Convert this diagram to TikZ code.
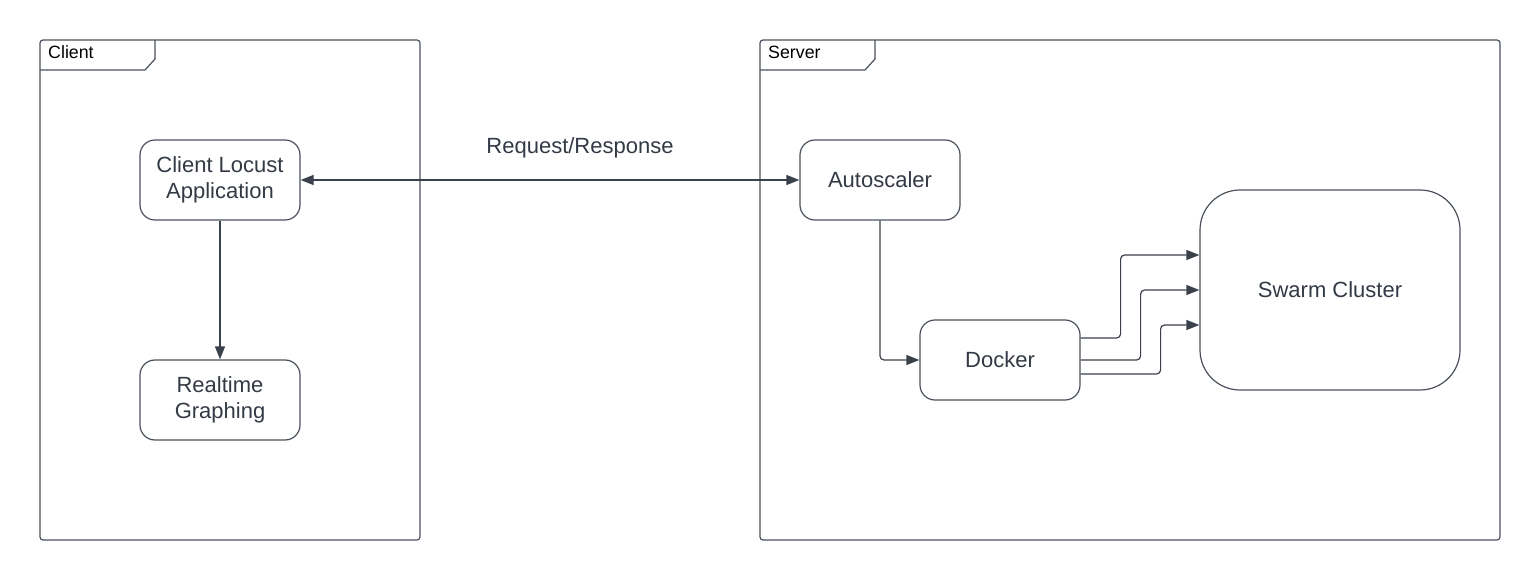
\documentclass[tikz,border=0pt]{standalone}
\usepackage{fontspec}
\setmainfont{Liberation Sans}
\usetikzlibrary{arrows.meta}
\definecolor{lc}{HTML}{4A515C}
\definecolor{ac}{HTML}{3A414A}
\definecolor{tc}{HTML}{333A45}
\tikzset{
  box/.style={draw=lc, line width=1.2pt, rounded corners=15pt, minimum width=160pt, minimum height=80pt, align=center, text=tc, font=\fontsize{22}{26}\selectfont, inner sep=0pt},
  arr/.style={draw=ac, line width=1.2pt, -{Triangle[length=13pt,width=10pt]}, rounded corners=4pt},
  frame/.style={draw=lc, line width=1.2pt, rounded corners=3pt},
  tabtxt/.style={anchor=base west, text=black, font=\fontsize{17.8}{20}\selectfont, inner sep=0pt},
  lbl/.style={text=tc, font=\fontsize{22}{26}\selectfont, inner sep=0pt}
}
\begin{document}
\begin{tikzpicture}[x=1pt,y=-1pt]
\useasboundingbox (0,0) rectangle (1540,580);
% frames
\draw[frame] (40,40) rectangle (420,540);
\draw[draw=lc, line width=1.2pt] (40,70) -- (145,70) -- (155,59) -- (155,40);
\node[tabtxt] (clientlbl) at (48,59) {Client};
\draw[frame] (760,40) rectangle (1500,540);
\draw[draw=lc, line width=1.2pt] (760,70) -- (865,70) -- (875,59) -- (875,40);
\node[tabtxt] (serverlbl) at (768,59) {Server};
% nodes
\node[box] (cla) at (220,180) {Client Locust\\Application};
\node[box] (rtg) at (220,400) {Realtime\\Graphing};
\node[box] (auto) at (880,180) {Autoscaler};
\node[box] (dock) at (1000,360) {Docker};
\node[box, minimum width=260pt, minimum height=200pt, rounded corners=40pt] (swarm) at (1330,290) {Swarm Cluster};
\node[lbl] (rr) at (580,148) {Request/Response};
% connectors
\draw[arr, {Triangle[length=13pt,width=10pt]}-{Triangle[length=13pt,width=10pt]}] (cla.east) -- (auto.west);
\draw[arr] (cla.south) -- (rtg.north);
\draw[arr] (auto.south) |- (dock.west);
\draw[arr] ([yshift=22pt]dock.east) -- ++(40,0) |- ([yshift=35pt]swarm.west);
\draw[arr] (dock.east) -- ++(60,0) |- (swarm.west);
\draw[arr] ([yshift=-14pt]dock.east) -- ++(80,0) |- ([yshift=-35pt]swarm.west);
\end{tikzpicture}
\end{document}
